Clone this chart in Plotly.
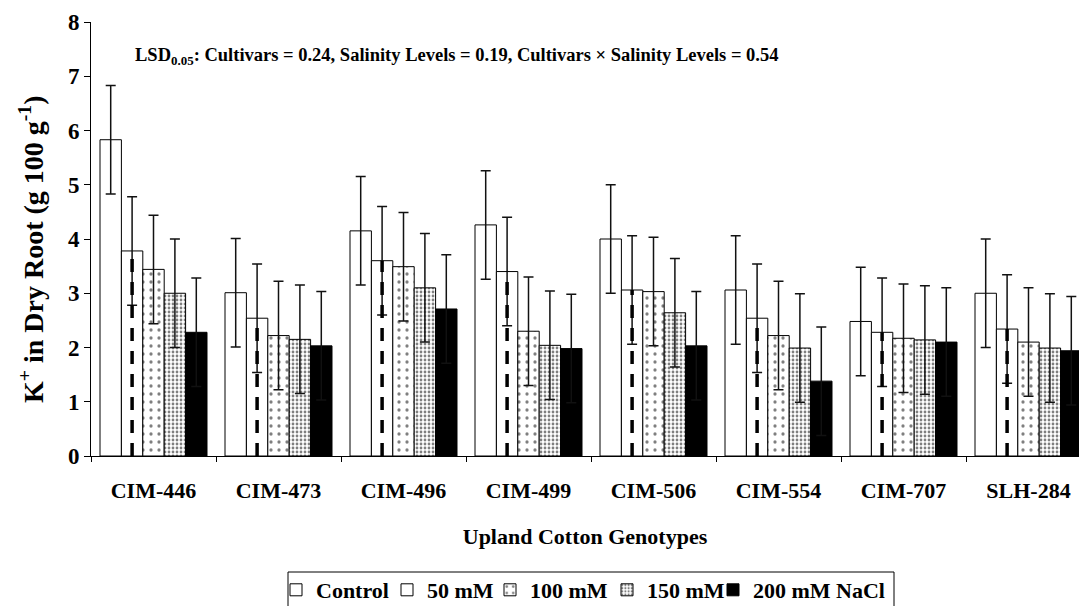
import plotly.graph_objects as go

genotypes = ["CIM-446", "CIM-473", "CIM-496", "CIM-499", "CIM-506", "CIM-554", "CIM-707", "SLH-284"]
series_names = ["Control", "50 mM", "100 mM", "150 mM", "200 mM NaCl"]
control = [5.83, 3.01, 4.15, 4.26, 4.00, 3.06, 2.48, 3.00]
mm50 = [3.78, 2.54, 3.60, 3.40, 3.06, 2.54, 2.28, 2.34]
mm100 = [3.44, 2.22, 3.49, 2.30, 3.03, 2.22, 2.17, 2.10]
mm150 = [3.00, 2.15, 3.10, 2.04, 2.64, 1.99, 2.14, 1.99]
mm200 = [2.28, 2.03, 2.71, 1.98, 2.03, 1.38, 2.10, 1.94]
err_control = [1.0] * 8
err_50 = [1.0] * 8
err_100 = [1.0] * 8
err_150 = [1.0] * 8
err_200 = [1.0] * 8
y_ticks = [0, 1, 2, 3, 4, 5, 6, 7, 8]

FONT = "Liberation Serif"
W, H = 1079, 606
ML, MT, MB = 91, 22, 150
GROUP_PX = 125.0
plot_w = W - ML
plot_h = H - MT - MB
xr = [-0.5, -0.5 + plot_w / GROUP_PX]
BARGAP = 0.144

values = [control, mm50, mm100, mm150, mm200]
errors = [err_control, err_50, err_100, err_150, err_200]
patterns = [
    dict(shape=""),
    dict(shape=""),
    dict(shape=".", size=8, solidity=0.13, fgcolor="black", bgcolor="white", fillmode="overlay"),
    dict(shape=".", size=4, solidity=0.38, fgcolor="black", bgcolor="white", fillmode="overlay"),
    dict(shape=""),
]
fills = ["white", "white", "white", "white", "black"]
legend_ids = ["legend", "legend2", "legend3", "legend4", "legend5"]
text_starts = [316, 427, 530, 647, 753]

fig = go.Figure()
for k in range(5):
    fig.add_trace(go.Bar(
        x=genotypes, y=values[k], name=series_names[k],
        marker=dict(color=fills[k], line=dict(color="black", width=1), pattern=patterns[k]),
        error_y=dict(type="data", array=errors[k], visible=True, color="#111",
                     thickness=1.5, width=5),
        legend=legend_ids[k],
    ))

# dashed centre line of the 50 mM bars
bw = (1 - BARGAP) / 5
off = -(1 - BARGAP) / 2 + 1.5 * bw
dx, dy = [], []
for i, v in enumerate(mm50):
    dx += [i + off, i + off, None]
    dy += [0, v, None]
fig.add_trace(go.Scatter(x=dx, y=dy, mode="lines", xaxis="x2", showlegend=False,
                         line=dict(color="black", width=3.5, dash="13px,10px"),
                         hoverinfo="skip"))

layout_legends = {}
for k in range(5):
    layout_legends[legend_ids[k]] = dict(
        x=(text_starts[k] - 40) / W, xref="container", xanchor="left",
        y=(H - 590) / H, yref="container", yanchor="middle",
        orientation="h", bgcolor="rgba(0,0,0,0)", borderwidth=0,
        font=dict(family=FONT, size=22, color="black", weight="bold"),
    )

fig.update_layout(
    width=W, height=H,
    margin=dict(l=ML, r=0, t=MT, b=MB),
    paper_bgcolor="white", plot_bgcolor="white",
    font=dict(family=FONT, color="black", weight="bold"),
    barmode="group", bargap=BARGAP, bargroupgap=0,
    xaxis=dict(
        type="category", range=xr, tickson="boundaries",
        ticks="outside", ticklen=5, tickcolor="black",
        showline=True, linecolor="black", linewidth=1, showgrid=False,
        tickfont=dict(family=FONT, size=22, color="black", weight="bold"),
        ticklabelstandoff=15,
        title=dict(text="<b>Upland Cotton Genotypes</b>", standoff=26,
                   font=dict(family=FONT, size=22, color="black", weight="bold")),
    ),
    xaxis2=dict(overlaying="x", range=xr, visible=False),
    yaxis=dict(
        range=[0, 8], tickvals=y_ticks, ticks="outside", ticklen=6, tickcolor="black",
        showline=True, linecolor="black", linewidth=1, showgrid=False, zeroline=False,
        tickfont=dict(family=FONT, size=23, color="black", weight="bold"),
    ),
    annotations=[
        dict(
            text="<b>LSD<sub>0.05</sub>: Cultivars = 0.24, Salinity Levels = 0.19, Cultivars × Salinity Levels = 0.54</b>",
            xref="paper", yref="paper", x=(133 - ML) / plot_w, y=(456 - 56) / plot_h,
            xanchor="left", yanchor="middle", showarrow=False,
            font=dict(family=FONT, size=18.5, color="black", weight="bold"),
        ),
        dict(
            text="<b>K<sup>+</sup> in Dry Root (g 100 g<sup>-1</sup>)</b>",
            xref="paper", yref="paper", x=(32 - ML) / plot_w, y=(456 - 250) / plot_h,
            xanchor="center", yanchor="middle", textangle=-90, showarrow=False,
            font=dict(family=FONT, size=28, color="black", weight="bold"),
        ),
    ],
    shapes=[dict(
        type="rect", xref="paper", yref="paper",
        x0=(288 - ML) / plot_w, x1=(894 - ML) / plot_w,
        y0=(456 - 572) / plot_h, y1=(456 - 650) / plot_h,
        line=dict(color="black", width=1), fillcolor="rgba(0,0,0,0)",
    )],
    **layout_legends,
)

fig.write_html("out.html")
